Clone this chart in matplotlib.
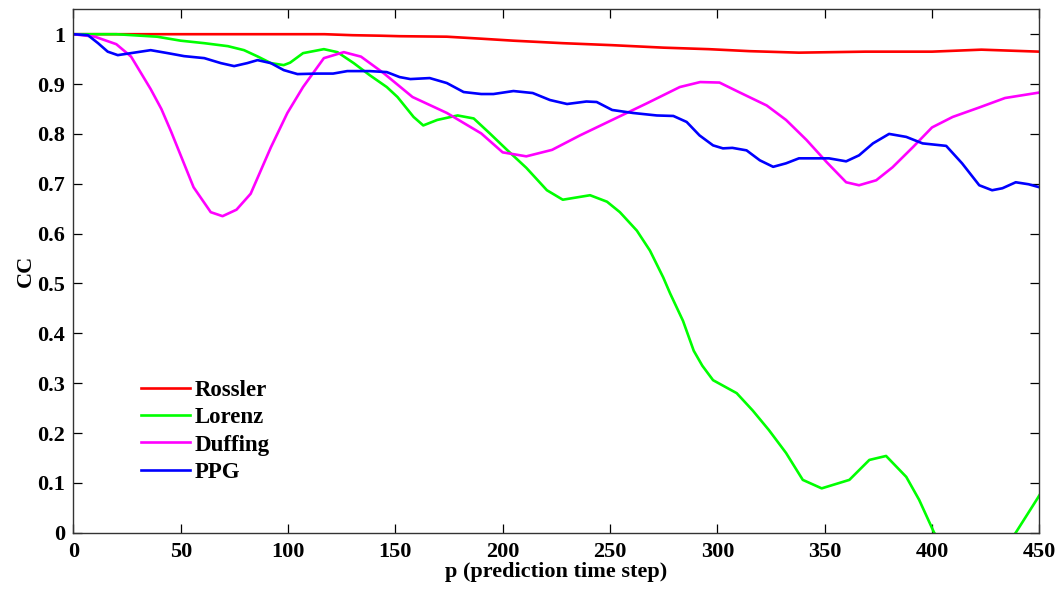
import matplotlib
matplotlib.use("Agg")
import matplotlib.pyplot as plt

# Rossler
p_rossler = [0, 50, 100, 117, 130, 143, 152, 174, 190, 205, 228, 251, 275, 296, 315, 338, 369, 400, 423, 450]
cc_rossler = [1.0, 1.0, 1.0, 1.0, 0.998, 0.997, 0.996, 0.995, 0.991, 0.987, 0.982, 0.978, 0.973, 0.970,
              0.966, 0.963, 0.965, 0.965, 0.969, 0.965]

# Lorenz
p_lorenz = [0, 20, 39, 50, 61, 72, 79.5, 86, 92, 98, 101, 107, 116.7, 123, 130.6, 138, 146, 151, 158.5, 163,
            169.5, 179, 186.5, 194, 202, 211, 220.6, 228, 240.7, 248.6, 254.6, 262.5, 268.6, 274.8, 278, 284,
            289, 293, 298, 309, 316.5, 324, 332, 339.8, 348.6, 361.5, 370.8, 378.6, 388, 394, 401, 410, 420,
            430, 439, 449, 450]
cc_lorenz = [1.0, 1.0, 0.995, 0.987, 0.982, 0.976, 0.968, 0.955, 0.942, 0.938, 0.943, 0.962, 0.970, 0.964,
             0.942, 0.918, 0.894, 0.874, 0.834, 0.817, 0.828, 0.837, 0.831, 0.801, 0.768, 0.732, 0.687, 0.668,
             0.677, 0.664, 0.643, 0.606, 0.566, 0.512, 0.480, 0.425, 0.365, 0.335, 0.306, 0.280, 0.245, 0.206,
             0.160, 0.106, 0.089, 0.106, 0.146, 0.154, 0.112, 0.066, 0.0, -0.05, -0.07, -0.05, 0.0, 0.068, 0.075]

# Duffing
p_duffing = [0, 10, 20, 26.9, 36, 41, 45.5, 50, 56, 64, 69.5, 76, 82.6, 92, 99.7, 107, 116.7, 126, 134, 144.5,
             158, 174, 190, 200, 211, 223, 236, 251, 267, 282.5, 292, 301, 310, 323, 332, 341.5, 351, 360, 366,
             374, 381.6, 391, 400, 409.6, 422, 434, 450]
cc_duffing = [1.0, 0.995, 0.98, 0.955, 0.89, 0.85, 0.805, 0.757, 0.693, 0.643, 0.635, 0.648, 0.68, 0.773, 0.842,
              0.894, 0.952, 0.964, 0.955, 0.922, 0.874, 0.842, 0.801, 0.763, 0.755, 0.768, 0.797, 0.828, 0.861,
              0.894, 0.904, 0.903, 0.884, 0.857, 0.828, 0.788, 0.743, 0.703, 0.697, 0.707, 0.733, 0.773, 0.813,
              0.834, 0.853, 0.872, 0.883]

# PPG
p_ppg = [0, 6.8, 11.5, 16, 20.7, 26.8, 36, 44, 51.6, 61, 68.7, 74.9, 81, 85.8, 92, 98, 104.4, 113.7, 121,
         127.6, 138, 146, 152, 157, 166, 174, 181.8, 190, 195.7, 205, 214, 222, 230, 239, 243.8, 251, 260.7,
         271.8, 279.5, 285.7, 291.7, 298, 302.6, 307, 313.6, 319.8, 326, 332, 338, 352, 360, 366, 372.5, 380,
         388, 395.6, 406.6, 414, 422, 428, 432.8, 439, 445, 450]
cc_ppg = [1.0, 0.998, 0.982, 0.965, 0.958, 0.962, 0.968, 0.962, 0.956, 0.952, 0.942, 0.936, 0.942, 0.948,
          0.942, 0.928, 0.92, 0.921, 0.921, 0.926, 0.926, 0.924, 0.914, 0.91, 0.912, 0.902, 0.884, 0.88, 0.88,
          0.886, 0.882, 0.868, 0.86, 0.865, 0.864, 0.848, 0.842, 0.837, 0.836, 0.824, 0.797, 0.777, 0.771,
          0.772, 0.767, 0.747, 0.734, 0.741, 0.751, 0.751, 0.745, 0.757, 0.781, 0.8, 0.794, 0.781, 0.776,
          0.741, 0.697, 0.687, 0.691, 0.703, 0.699, 0.693]

xticks = [0, 50, 100, 150, 200, 250, 300, 350, 400, 450]
yticks = [0, 0.1, 0.2, 0.3, 0.4, 0.5, 0.6, 0.7, 0.8, 0.9, 1]
ytick_labels = ["0", "0.1", "0.2", "0.3", "0.4", "0.5", "0.6", "0.7", "0.8", "0.9", "1"]

plt.rcParams["font.family"] = ["Liberation Serif", "DejaVu Serif"]
plt.rcParams["font.weight"] = "bold"

fig = plt.figure(figsize=(10.57, 5.91), dpi=100)
ax = fig.add_axes([0.0694, 0.0986, 0.9139, 0.8857])

lw = 1.9
ax.plot(p_rossler, cc_rossler, color="#ff0000", lw=lw, label="Rossler")
ax.plot(p_lorenz, cc_lorenz, color="#00ff00", lw=lw, label="Lorenz")
ax.plot(p_duffing, cc_duffing, color="#ff00ff", lw=lw, label="Duffing")
ax.plot(p_ppg, cc_ppg, color="#0000ff", lw=lw, label="PPG")

ax.set_xlim(0, 450)
ax.set_ylim(0, 1.05)
ax.set_xticks(xticks)
ax.set_yticks(yticks)
ax.set_yticklabels(ytick_labels)
ax.tick_params(direction="in", top=True, right=True, length=6.5, width=0.9, labelsize=16)
ax.tick_params(axis="x", pad=7)
ax.tick_params(axis="y", pad=6)
for lab in ax.get_xticklabels() + ax.get_yticklabels():
    lab.set_fontweight("bold")
for sp in ax.spines.values():
    sp.set_color("#333333")
    sp.set_linewidth(1.0)

ax.set_xlabel("p (prediction time step)", fontsize=16, fontweight="bold", labelpad=0)
ax.set_ylabel("CC", fontsize=16, fontweight="bold", labelpad=1)

ax.legend(loc="lower left", bbox_to_anchor=(0.061, 0.078), frameon=False, fontsize=16.5,
          handlelength=2.1, handletextpad=0.22, labelspacing=0.27, borderaxespad=0)

fig.savefig("out.png", dpi=100)
